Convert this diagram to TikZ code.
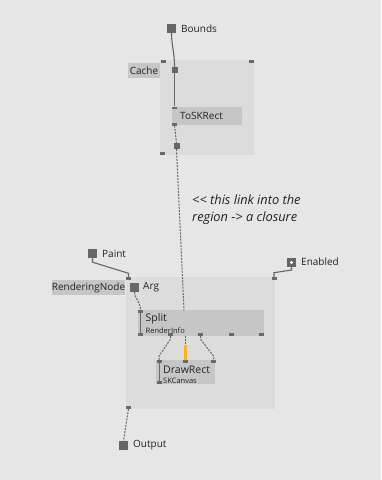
\documentclass[tikz,border=0pt]{standalone}
\usepackage{fontspec}
\setmainfont{Open Sans}
\definecolor{bg}{HTML}{E6E6E6}
\definecolor{regionc}{HTML}{DCDCDC}
\definecolor{nodec}{HTML}{C6C6C6}
\definecolor{pinc}{HTML}{6A6A6A}
\definecolor{sqc}{HTML}{666666}
\definecolor{linkc}{HTML}{666666}
\definecolor{txtc}{HTML}{222222}
\definecolor{hilite}{HTML}{F2B51E}
\begin{document}
\begin{tikzpicture}[x=1pt,y=-1pt,
  regionbox/.style={fill=regionc,draw=none,inner sep=0,anchor=north west},
  nodebox/.style={fill=nodec,draw=none,inner sep=0,anchor=north west},
  labelbox/.style={fill=nodec,draw=none,inner sep=0,text=txtc,font=\fontsize{10}{12}\selectfont},
  pinbox/.style={fill=pinc,draw=none,inner sep=0,minimum width=5pt,minimum height=2.6pt},
  iosq/.style={fill=sqc,draw=none,inner sep=0,minimum size=9pt},
  smallsq/.style={fill=sqc,draw=none,inner sep=0,minimum size=6pt},
  lbl/.style={inner sep=0,anchor=west,text=txtc,font=\fontsize{10}{12}\selectfont},
  sublbl/.style={inner sep=0,anchor=west,text=txtc,font=\fontsize{7.5}{9}\selectfont},
  commentlbl/.style={inner sep=0,anchor=base west,text=txtc,font=\fontsize{12.8}{14}\selectfont\itshape},
  solidlink/.style={draw=linkc,line width=1.1pt},
  dashlink/.style={draw=linkc,line width=1pt,dash pattern=on 2pt off 1.2pt},
]
\useasboundingbox (0,0) rectangle (381,480);
\fill[bg] (0,0) rectangle (381,480);

% ---------- Cache region ----------
\node[regionbox,minimum width=94pt,minimum height=95pt] (cache) at (160,60) {};
\node[labelbox,minimum width=32pt,minimum height=15pt] (cachelbl) at (144,70.5) {Cache};
\node[pinbox] (cpTL) at (163,61.5) {};
\node[pinbox] (cpTR) at (251.5,61.5) {};
\node[pinbox] (cpBL) at (162.5,153.5) {};

\node[iosq] (bounds) at (171.5,28.5) {};
\node[lbl] (boundslbl) at (181,28.5) {Bounds};

\node[smallsq] (cachein) at (174.5,70) {};
\node[nodebox,minimum width=70pt,minimum height=18pt] (tosk) at (172,107) {};
\node[lbl] (tosklbl) at (180,116) {ToSKRect};
\node[pinbox] (toskin) at (174.5,107.8) {};
\node[pinbox] (toskout) at (174.5,124.2) {};
\node[smallsq] (cacheout) at (176.5,146) {};
\draw[draw=white!80!gray,line width=0.8pt] (245.5,113) .. controls (247.5,115) and (247.5,117) .. (245.5,119);

\draw[solidlink] (bounds.south) .. controls (171.5,45) and (174.5,52) .. (cachein.north);
\draw[solidlink] (cachein.south) -- (toskin.north);
\draw[dashlink] (toskout.south) -- (cacheout.north);

% ---------- comment ----------
\node[commentlbl] (c1) at (192,204.5) {{<}{<} this link into the};
\node[commentlbl] (c2) at (192,221.5) {region -{>} a closure};

% ---------- RenderingNode region ----------
\node[regionbox,minimum width=149pt,minimum height=132pt] (rnode) at (126,277) {};
\node[labelbox,minimum width=73pt,minimum height=15pt] (rnlbl) at (88.5,287.5) {RenderingNode};
\node[pinbox] (rpTL) at (128.5,278.5) {};
\node[pinbox] (rpTR) at (274,278.5) {};
\node[pinbox] (rpBL) at (128.5,407.5) {};

\node[iosq] (arg) at (134.5,287.5) {};
\node[lbl] (arglbl) at (143,287.5) {Arg};

\node[iosq] (paint) at (92.5,253.5) {};
\node[lbl] (paintlbl) at (102,253.5) {Paint};

\node[iosq] (enabled) at (291.5,262.5) {};
\fill[white] (enabled.center) circle (1.6pt);
\node[lbl] (enabledlbl) at (301,262) {Enabled};

\node[iosq] (output) at (123.5,445.5) {};
\node[lbl] (outputlbl) at (133,445) {Output};

% Split
\node[nodebox,minimum width=126pt,minimum height=26pt] (split) at (138,310) {};
\node[lbl,font=\fontsize{10.5}{12}\selectfont] (splitlbl) at (145.5,319) {Split};
\node[sublbl] (splitsub) at (145.5,330.5) {RenderInfo};
\node[pinbox] (spin) at (140.5,311.3) {};
\node[pinbox] (sout1) at (140.5,334.7) {};
\node[pinbox] (sout2) at (170.5,334.7) {};
\node[pinbox] (sout3) at (200.5,334.7) {};
\node[pinbox] (sout4) at (231.5,334.7) {};
\node[pinbox] (sout5) at (261.5,334.7) {};
\draw[draw=pinc,line width=1pt] (spin.center) -- (sout1.center);
\coordinate (stopclosure) at (184,310);
\coordinate (smid) at (185.5,336);

% DrawRect
\node[nodebox,minimum width=59pt,minimum height=24pt] (drawrect) at (156,360) {};
\node[lbl,font=\fontsize{10.5}{12}\selectfont] (drlbl) at (163,370) {DrawRect};
\node[sublbl] (drsub) at (163,380.5) {SKCanvas};
\node[pinbox] (din1) at (159,361.3) {};
\node[pinbox] (din2) at (185.5,361.3) {};
\node[pinbox] (din3) at (213.5,361.3) {};
\node[pinbox] (dbl) at (159,382.7) {};
\draw[draw=pinc,line width=1pt] (din1.center) -- (dbl.center);
\coordinate (ymid) at (185.5,345);

% links
\draw[solidlink] (paint.south) -- ++(0,4) -- (128.5,273.3) -- (rpTL.north);
\draw[solidlink] (enabled.south) -- ++(0,2.8) -- (274,272.7) -- (rpTR.north);
\draw[dashlink] (cacheout.south) -- (stopclosure);
\draw[dashlink] (arg.south) .. controls (134.5,298) and (140.5,302) .. (spin.north);
\draw[dashlink] (sout2.south) -- ++(0,3) -- (159,356) -- (din1.north);
\draw[dashlink] (sout3.south) -- ++(0,3) -- (213.5,356) -- (din3.north);
\draw[dashlink] (smid) -- (ymid);
\draw[draw=hilite,line width=3pt] (ymid) -- (din2.north);
\draw[dashlink] (rpBL.south) -- (output.north);
\end{tikzpicture}
\end{document}
